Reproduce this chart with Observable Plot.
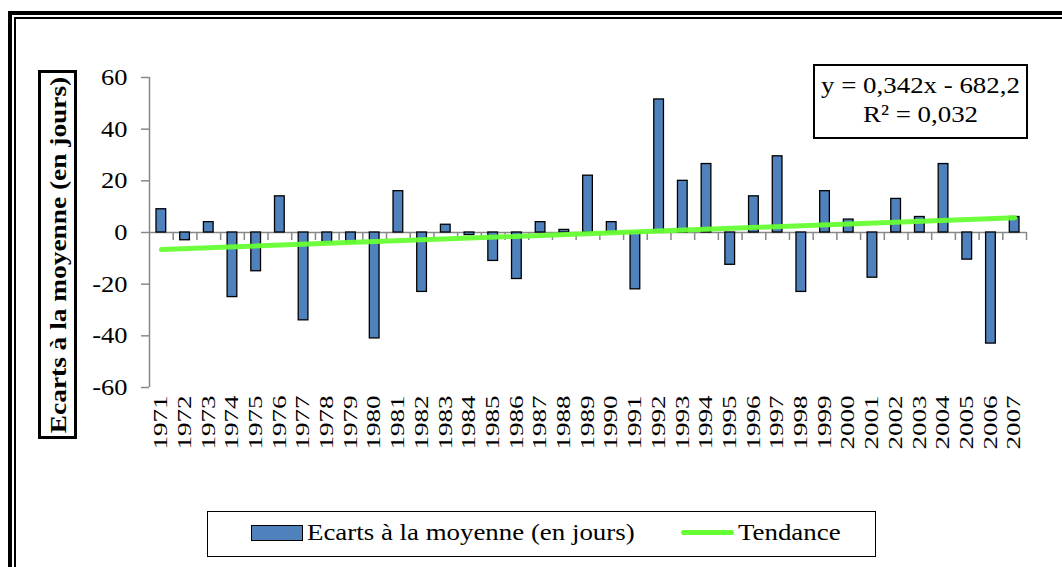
<!DOCTYPE html>
<html>
<head>
<meta charset="utf-8">
<script src="https://cdn.jsdelivr.net/npm/d3@7"></script>
<script src="https://cdn.jsdelivr.net/npm/@observablehq/plot@0.6"></script>
<style>
  html, body { margin: 0; padding: 0; background: #fff; overflow: hidden; }
  #page { position: relative; width: 1062px; height: 567px; overflow: hidden; font-family: "Liberation Serif", "Times New Roman", serif; }
  #frame1 { position: absolute; left: 8px; top: 11px; width: 1100px; height: 600px; border: 4px solid #000; border-right: none; border-bottom: none; }
  #frame2 { position: absolute; left: 13.5px; top: 16.5px; width: 1100px; height: 600px; border: 2px solid #000; border-right: none; border-bottom: none; }
  #chart { position: absolute; left: 0; top: 0; }
  #ytitle { position: absolute; left: 38px; top: 70px; width: 33px; height: 363px; border: 3px solid #000; background: #fff; }
  #ytitle span { position: absolute; left: 50%; top: 50%; transform: translate(-50%, -50%) rotate(-90deg) scaleX(1.14); white-space: nowrap; font-weight: bold; font-size: 24px; }
  #eq { position: absolute; left: 813px; top: 64px; width: 211px; height: 66px; border: 2px solid #000; background: #fff; text-align: center; font-size: 24px; line-height: 29px; padding-top: 5px; box-sizing: content-box; }
  #eq div { transform: scaleX(1.12); transform-origin: 50% 50%; }
  #legend { position: absolute; left: 207px; top: 511px; width: 667px; height: 44px; border: 1px solid #000; background: #fff; font-size: 24px; }
  .sw { position: absolute; top: 13px; left: 43px; width: 50px; height: 14px; background: #4f81bd; border: 1px solid #000; }
  .lt1 { position: absolute; left: 99px; top: 7px; transform: scaleX(1.12); transform-origin: 0 50%; white-space: nowrap; }
  .ln { position: absolute; left: 473px; top: 18px; width: 53px; height: 5px; background: #66ff33; border-radius: 3px; }
  .lt2 { position: absolute; left: 530px; top: 7px; transform: scaleX(1.12); transform-origin: 0 50%; white-space: nowrap; }
</style>
</head>
<body>
<div id="page">
  <div id="frame1"></div>
  <div id="frame2"></div>
  <div id="chart"></div>
  <div id="ytitle"><span>Ecarts à la moyenne (en jours)</span></div>
  <div id="eq"><div>y = 0,342x - 682,2</div><div>R² = 0,032</div></div>
  <div id="legend">
    <div class="sw"></div><div class="lt1">Ecarts à la moyenne (en jours)</div>
    <div class="ln"></div><div class="lt2">Tendance</div>
  </div>
</div>
<script>
const years = [1971,1972,1973,1974,1975,1976,1977,1978,1979,1980,1981,1982,1983,1984,1985,1986,1987,1988,1989,1990,1991,1992,1993,1994,1995,1996,1997,1998,1999,2000,2001,2002,2003,2004,2005,2006,2007];
const ecarts = [9,-3,4,-25,-15,14,-34,-4,-4,-41,16,-23,3,-1,-11,-18,4,1,22,4,-22,51.5,20,26.5,-12.5,14,29.5,-23,16,5,-17.5,13,6,26.5,-10.5,-43,6];
const yTicks = [-60,-40,-20,0,20,40,60];
const seriesName = "Ecarts à la moyenne (en jours)";
const trendName = "Tendance";

const data = years.map((y, i) => ({year: y, value: ecarts[i]}));
const boundaries = years.slice(1).map(y => y - 0.5).concat([years[years.length - 1] + 0.5]);

const chart = Plot.plot({
  width: 1062,
  height: 480,
  marginLeft: 149,
  marginRight: 36,
  marginTop: 77,
  marginBottom: 93,
  style: {fontFamily: "'Liberation Serif', 'Times New Roman', serif", fontSize: "23px", background: "transparent", color: "#000"},
  x: {domain: [years[0] - 0.5, years[years.length - 1] + 0.5]},
  y: {domain: [-60, 60]},
  marks: [
    Plot.ruleY([0], {stroke: "#888", strokeWidth: 1.5}),
    Plot.ruleX([years[0] - 0.5], {stroke: "#888", strokeWidth: 1.5}),
    Plot.ruleX(boundaries, {y1: 0, y2: -3.1, stroke: "#888", strokeWidth: 1.5}),
    Plot.axisY({ticks: yTicks, tickFormat: d => String(d), tickSize: 8, tickPadding: 14, stroke: "#888", strokeWidth: 1.5, fill: "#000", label: null}),
    Plot.rectY(data, {x1: d => d.year - 0.5, x2: d => d.year + 0.5, y: "value", fill: "#4f81bd", stroke: "#000", strokeWidth: 1.3, insetLeft: 7, insetRight: 7}),
    Plot.linearRegressionY(data, {x: "year", y: "value", ci: 0, stroke: "#66ff33", strokeWidth: 5, strokeOpacity: 0.95}),
    Plot.axisX({ticks: years, tickFormat: d => String(d), tickRotate: -90, tickSize: 0, tickPadding: 8, label: null, fill: "#000"})
  ]
});
document.getElementById("chart").appendChild(chart);
d3.select(chart).selectAll('g[aria-label="x-axis tick label"] text')
  .attr("textLength", 54).attr("lengthAdjust", "spacingAndGlyphs").style("font-size", "18px");
d3.select(chart).selectAll('g[aria-label="y-axis tick label"] text').each(function() {
  const len = this.getComputedTextLength();
  d3.select(this).attr("textLength", len * 1.15).attr("lengthAdjust", "spacingAndGlyphs");
});
</script>
</body>
</html>
